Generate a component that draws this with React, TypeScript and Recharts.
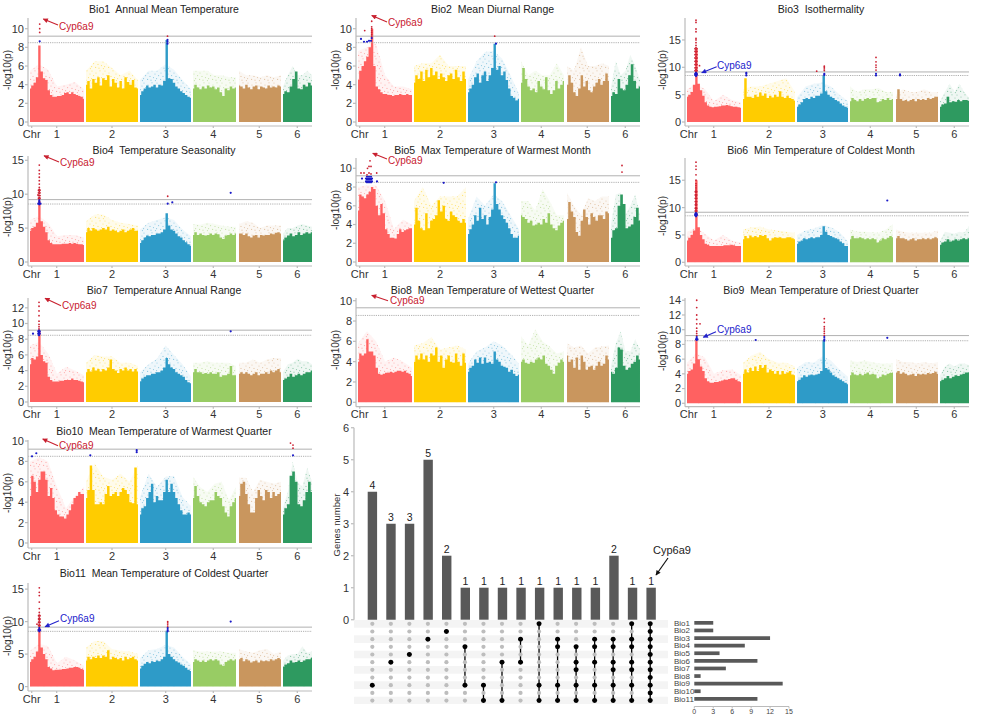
import React from 'react';
import {
  ComposedChart, BarChart, Bar, Area, Scatter, Line, XAxis, YAxis,
  ReferenceLine, ReferenceArea, LabelList
} from 'recharts';

const FONT = '"Liberation Sans", Arial, sans-serif';

// genome axis, shared by all Manhattan panels
const chrStart = [2, 58, 112, 165, 211, 255];
const chrEnd = [56, 110, 163, 208, 253, 284];
const chrTicks = [3.7, 28.7, 84, 137.7, 185.3, 231.3, 269.3];
const chrLabels = ['Chr', '1', '2', '3', '4', '5', '6'];
const chrColors = ['#FF6161', '#FFCC00', '#2E9BC8', '#98CC64', '#C9965E', '#2E9A60'];

// solid part of each chromosome, -log10(p) read along the chromosome
const bio1Solid = [
  [3.6,3.9,4.2,4.8,8.2,5.4,4.7,4.5,3.4,2.9,2.7,2.7,2.8,2.8,2.9,3.1,3.2,3.0,3.2,3.0,2.9,2.8,2.7,2.5],
  [4.0,4.4,3.6,4.6,4.2,4.8,3.9,4.7,4.5,5.0,3.8,4.6,4.2,3.7,4.4,3.6,4.8,4.3,4.0,4.5,3.7,3.6],
  [2.9,3.3,3.6,3.9,3.7,3.8,4.0,3.7,4.0,3.9,4.4,8.8,4.7,4.6,4.2,3.8,3.6,3.3,3.1,2.9,2.7,2.6],
  [3.6,4.0,3.7,3.5,3.8,3.6,3.9,3.7,3.8,3.5,3.7,3.2,2.8,3.6,3.4,3.8,3.6,3.7],
  [3.9,3.8,3.6,4.0,3.7,3.5,3.8,3.9,3.5,3.8,3.7,3.6,3.9,3.7,3.8,3.7,3.9,3.8],
  [3.0,3.3,3.2,3.8,4.6,5.4,3.6,3.5,4.0,3.8,4.2,3.9],
];
const bio2Solid = [
  [4.5,5.5,6,6.5,7,8,10,6,3.8,3.5,3.2,3.0,3.0,2.9,2.9,2.8,2.9,2.9,3.0,2.9,2.9,3.0,2.9,2.9],
  [4.2,5.0,4.6,5.4,4.4,5.6,4.8,5.8,5.0,5.4,4.6,5.2,4.8,4.4,5.0,5.2,4.6,5.6,4.8,4.4,5.4,4.6],
  [3.2,3.6,4.0,4.8,5.2,4.2,5.0,5.4,4.4,5.0,5.8,8.4,5.6,6.0,5.0,5.4,4.5,3.6,2.8,2.6,2.3,2.5],
  [4.2,5.8,4.6,3.8,3.4,3.6,3.2,4.4,3.8,3.5,4.8,3.4,3.0,3.4,4.4,3.6,4.0,4.4],
  [4.0,5.0,4.2,3.2,2.8,3.6,5.0,3.8,4.4,3.4,3.2,3.8,4.2,4.6,4.0,4.4,5.2,4.4],
  [2.8,3.2,3.0,4.6,3.6,3.4,4.0,5.0,6.2,4.4,3.6,3.8],
];
const bio3Solid = [
  [4.6,5,5.5,6.8,13.5,7.0,5.8,4.8,3.6,3,2.8,2.7,2.8,2.8,2.9,3,3.0,3.1,3.0,2.9,2.8,2.8,2.7,2.6],
  [4.2,8,4.6,4.6,4.4,5,4.6,5.4,4.8,5.2,4.4,4.8,4.5,5,4.6,5.6,4.6,4.4,4.8,4.4,4.2,3.9],
  [2.8,3.2,3.6,4.2,4.4,4.2,4.6,4.4,4.8,4.8,5.2,8.6,5.6,5,4.6,4.4,4,3.8,3.4,3.0,2.8,2.6],
  [3.8,4.4,4.0,3.8,4.2,3.9,4.2,4.4,4.2,4.4,4.4,3.6,3.8,4.2,4,4.4,4,4.2],
  [4.2,6,4.2,3.9,4,3.8,4,4.2,3.8,4.2,4,4.2,4,4.4,4.2,4.4,4.6,4.6],
  [2.8,3.2,3.4,4.6,3.6,3.8,3.7,4.0,3.8,4,4,3.9],
];
const bio4Solid = [
  [4.6,5,5.2,5.8,9,6,5.2,4.4,3.2,2.8,2.6,2.6,2.6,2.6,2.7,2.7,2.7,2.8,2.7,2.8,2.7,2.6,2.6,2.5],
  [4.4,5,4.6,5,4.8,4.6,4.8,5,4.8,5.2,4.6,4.8,4.6,4.4,4.6,4.8,4.4,4.6,4.8,5,4.6,4.6],
  [2.8,3.2,3.6,3.9,3.8,4,4,4.2,4.2,4.4,4.8,7.2,5.4,4.8,4.6,4.2,3.8,3.6,3.2,2.9,2.6,2.4],
  [4,4.4,4,4.2,4,3.9,4,4.2,4,4.2,4.1,3.6,3.4,3.9,4,4.2,4,4.2],
  [4.2,4.2,4,4.2,3.8,3.6,3.9,4,3.6,4,3.9,4,4,4.2,4.1,4.3,4.4,4.2],
  [3.2,3.6,3.9,4.2,3.8,4,4.4,4,4.2,4.4,4.2,4.4],
];
const bio5Solid = [
  [5.5,7.2,7,6.8,7.2,7.5,8,7.8,6,5,6.2,5.2,3.5,3,2.6,2.6,2.5,3.0,3.5,3.2,3.4,3.5,3.6,3.6],
  [4,5.8,4.4,3.6,3.4,5.2,3.6,4.4,4.6,5,6.6,5.4,6,4.6,4.4,5.4,5,4.8,4.4,4.2,4.6,4.2],
  [3,3.5,4,5,4.4,5.8,4.6,5,4,4.8,5.6,8.4,6.2,5.6,5,4.6,4.2,3.6,3,2.6,2.6,2.8],
  [5,4.8,4.6,4.2,4.4,3.9,4,4.2,4,4.6,4.2,5.2,4,3.6,3.4,3.9,4.2,4.4],
  [4.6,6.4,5.4,4.8,3.2,2.8,4.4,5.6,4.8,4,5.2,4.8,4.4,5,5,4.6,5.4,5.2],
  [2.6,3.4,3.6,6,7.2,6.2,3.6,3.8,4,4.8,5.8,4.4],
];
const bio6Solid = [
  [4,4.5,5,5.8,15,6.4,5,4.2,3.4,3.2,3,3,3,3,3,3,3.1,3.1,3.1,3.2,3.1,3,3,3],
  [4.2,4.8,4.4,4.9,4.6,4.8,4.6,5,4.8,5,4.4,4,4.4,4.6,4.5,4.6,4.4,4.4,4.6,4.6,4.4,4.2],
  [3.4,3.8,4,4.4,4.2,4.4,4.6,4.4,4.6,4.6,5,6.6,5.6,5,4.8,4.6,4.4,4.2,3.8,3.5,3,3],
  [4.2,4.8,4.4,4.4,4.6,4.4,4.2,4.4,4.2,4.4,4.2,3.6,4,4.4,4.2,4.5,4.8,4.6],
  [4.4,4.8,4.4,4.4,4.2,4,4.2,4.4,4,4.2,4.2,4.4,4.2,4.4,4.2,4.4,4.6,4.4],
  [3.2,3.6,3.8,4.2,3.8,4,4.2,4,4.2,4.4,4.2,4.4],
];
const bio7Solid = [
  [4.8,5.6,5.4,5.8,9,6,5.2,5,3.2,2.8,2.6,2.6,2.6,2.7,2.7,2.8,2.8,2.8,3,2.8,2.8,2.7,2.6,2.5],
  [3.8,4.2,3.9,4.4,4,4.2,3.9,4.2,4,4.4,5.4,4.2,4,3.7,4.2,4,4.4,4,4.2,3.9,4.2,3.9],
  [2.6,3,3.2,3.4,3.4,3.6,3.6,3.8,3.8,4,4.4,5.6,4.8,4.4,4.2,3.8,3.6,3.4,3.2,2.8,2.5,2.4],
  [3.8,4.2,3.8,3.8,3.6,3.7,3.6,3.8,3.6,3.6,3.8,3.2,3.4,3.4,3.6,4.6,3.4,3.4],
  [3.6,3.8,3.6,3.8,3.6,3.4,3.6,3.8,3.4,3.6,3.6,3.8,3.6,4,3.8,4,4.2,3.8],
  [2.8,3,3.2,3.6,3.2,3.4,3.6,3.4,3.6,3.8,3.8,4],
];
const bio8Solid = [
  [4,4.8,4.6,4.8,6.2,5,5,4.6,3.4,2.8,2.7,2.8,2.9,2.9,3,2.9,3,3.1,3.1,3,3.1,2.9,2.8,2.6],
  [4,4.6,4.2,4.8,4.2,4.6,4,4.8,4.6,5.4,4,4.6,3.4,4.2,4.6,4,3.9,4.8,4,3.6,4.8,3.9],
  [3,3.4,3.6,4.2,3.9,4.4,3.8,4.4,3.9,4,3.8,5,4.2,4,3.6,3.5,3.4,3,3.2,2.8,2.6,2.7],
  [4,4.2,3.9,3.8,4,3.9,4.2,4.4,4.2,4.6,3.8,3.6,3.2,2.8,3.6,3.9,4.2,4],
  [4.6,4,4.2,3.4,4.4,3.2,4.6,4,3.2,3.5,3.6,3.2,3.6,4,3.6,3.8,4.6,4.2],
  [3,2.8,3.4,5.4,5.2,3.6,3.2,3.4,3.8,4,4.6,4.2],
];
const bio9Solid = [
  [4,4.4,4.6,5.4,8.6,6,5,4.4,3.4,3,2.8,2.8,2.9,2.9,3,3.1,3.2,3.2,3.3,3.4,3.4,3.2,3,2.9],
  [4,4.6,4.2,4.8,4.4,5,4.4,5.2,4.8,5.2,4.2,4.6,4.4,4,4.4,3.9,4.4,4,4.2,4.4,3.9,3.8],
  [3,3.2,3.5,3.8,3.6,3.8,3.9,3.8,3.9,4,4.4,8.6,4.8,4.6,4.2,3.8,3.6,3.4,3.2,3,2.8,2.6],
  [3.8,4.2,3.9,3.8,4,3.8,4,4.2,3.9,4,3.9,3.4,3.6,3.9,3.8,4,4.1,4.2],
  [4.2,4.4,4,4.2,4,3.8,3.9,4,3.7,4,3.9,4,3.9,4.1,4,4.1,4.3,4],
  [3,3.2,3.4,3.7,3.4,3.6,3.8,3.7,3.9,4,4.2,4.2],
];
const bio10Solid = [
  [4.6,6.6,6,5,6.2,7,7,6.2,4.6,5.4,4.4,3.2,2.8,2.6,2.6,2.4,2.8,3.2,3.8,4.4,4.6,5,4.8,4.8],
  [4.4,5.2,7.6,5.2,3.8,3.8,4,3.8,4.8,5.6,4.6,4.8,5,4.6,5,5.4,5.2,4.8,4,3.9,7.4,3.8],
  [2.8,3.4,3.6,4.4,5,5.8,4,4.6,4.2,4.2,5,6.2,5,5.8,5,4.4,3.8,3.2,2.8,2.8,3,2.8],
  [4.4,5.6,4.6,4,3.8,3.6,4,4.2,4.2,5,4.6,4.4,3.6,3,2.6,3.6,4,4.4],
  [4.6,5.8,6,4.8,3.8,3,3,4.4,5.2,4.6,4.2,5.2,5,4.4,5,4.6,4.8,5],
  [2.8,3.4,3.8,6.6,7,6,3.8,3.6,4.2,5,6,5],
];
const bio11Solid = [
  [3.8,4.2,4.6,5.4,9,6,5,4.2,3,2.8,2.5,2.6,2.6,2.6,2.7,2.7,2.8,2.9,2.9,3,3,2.9,2.7,2.6],
  [4,4.6,4.2,4.6,4.4,4.8,4.4,4.8,4.6,5.6,4.2,4.6,4.4,4.2,4.4,4,4.6,4.2,4.4,4.6,4.2,4],
  [2.8,3.2,3.5,3.8,3.6,3.9,3.8,4,3.9,4.2,4.6,8.6,5,4.6,4.2,3.9,3.7,3.4,3.2,2.9,2.6,2.4],
  [3.8,4.2,4,3.8,4,3.8,4,4.2,4,4.2,4,3.4,3.2,3.8,4,4.2,4,4.2],
  [4.2,4.4,3.9,4.2,4,3.7,3.9,4,3.7,4,3.9,4,3.9,4.2,4,4.2,4.4,4.2],
  [3,3.4,3.6,4,3.7,3.8,4,3.8,4,4.2,4.2,4.4],
];

// thin stippled cloud above the solid part
const bio1Cloud = [[5.5,6.2,5.6,3.8,4,4.3,3.5],[5.5,6.5,6.5,5.8,5,5.5,4.5],[4.5,5.5,5.5,6.2,5.6,4.5,3.5],[5.5,5.5,5.5,5,5,4.8,4.8],[5.5,5,5,4.8,5,4.8,5],[3.8,5,6,5,5,5.5,5]];
const bio2Cloud = [[7.6,8,8.4,5,3.8,3.8,3.5],[6,6.3,6.3,7.2,6,6,6],[4.5,6.5,7.5,7.6,6.8,5,3],[6.5,5,5.5,5,5,6.3,5],[6,5.5,8,6,6,6.3,6],[3.8,6.5,5,5.5,7.2,6,4.5]];
const bio3Cloud = [[6,7,6,3.8,5,4,3.6],[6,6.5,6.5,7,7.5,8,5.5],[4.5,6.5,7,7.2,6.5,5,3.8],[6.5,5.5,6,6,6.2,5.5,5.5],[5,6,5.5,5.5,6,5.5,5.5],[3.8,5.5,7,5.5,7,5.5,4.5]];
const bio4Cloud = [[6.2,6.8,5.8,3.8,4,4,3.6],[6,7,7,6.2,5.8,5.6,5.4],[4.8,5.8,6.2,6.6,6.2,4.8,3.8],[5.6,5.5,5.8,5.6,5.4,5.2,5.2],[5.6,6,5.8,5,5.4,5.4,5.4],[4.2,5,5,5.4,5.6,5.4,5.2]];
const bio5Cloud = [[8,8.2,8.2,6.5,3.5,4.5,4],[6.5,8,6,7,7,7,8],[4.5,7,6,7.2,6.5,5,3.5],[6.5,6.5,5.5,7.8,6.5,5,5],[7.4,6,5,6.8,6.5,7,7],[4,7.2,7.4,5,6,7.2,5]];
const bio6Cloud = [[5.5,6.4,5.2,4,5,4,3.6],[6,6.4,6.5,6,5.8,5.6,5.4],[5,5.8,6.2,6.8,6.4,5.5,3.8],[6,5.6,5.6,5.5,5.4,6,7],[6,5.6,5.4,5.4,5.4,5.4,5.8],[3.9,5.6,5.4,5.2,5.6,5.4,6.6]];
const bio7Cloud = [[7.2,7.6,6.2,3.6,4.5,4,3.4],[5,6,5.8,5.8,5,5,4.6],[3.8,4.8,5.5,7.2,6,4.8,3.2],[5,5,5.2,5,5,5,4.6],[5,5,5.4,5,5.4,5.6,5.6],[3.8,4.8,5,5.5,5.2,5.2,4.8]];
const bio8Cloud = [[5.8,7,6,4,4.4,4,3.4],[5.6,5.8,6.4,5.2,5.4,5.6,5.2],[3.8,5,5.4,6,5.6,4.8,3.8],[6.5,5.6,7.2,6,5.5,4.8,5],[5.8,5.4,5.6,4.8,5.4,5.5,5.6],[3.6,5.8,7,5,5,6.2,5.2]];
const bio9Cloud = [[5.5,6.8,6.2,4,4.5,4.6,3.8],[5.5,6.5,7,6,5.5,5.5,5],[4.8,5.6,5.5,6.4,5.8,4.6,3.6],[5.8,5.6,5.8,5.6,5.4,5.4,5.4],[6,5.6,5.6,5.4,5.6,5.4,5.6],[3.8,5,5.4,5,5.4,5.4,5.2]];
const bio10Cloud = [[8,8.4,8,5.5,3.4,4.6,5.5],[6,7.8,6.5,6.2,6.8,6,7.6],[4.5,6.8,5.5,6.5,6.6,4.5,3.6],[6.5,5.5,5,5.8,6,4.2,5.5],[6.4,6.4,5,6.2,6,5.8,6],[3.5,5,8,6,5.5,7.4,6]];
const bio11Cloud = [[5.5,6.6,6.2,3.6,4.6,4,3.2],[6,7,7,5.8,5.5,5.4,5],[4.4,5.6,5.8,6.4,6,4.6,3.4],[5.6,5.4,5.4,5.4,5.4,5.2,5.2],[5.8,5.4,5.2,5.6,5.8,5,5.4],[4,4.8,5,5,6.2,5.2,5.4]];

// significant SNPs: [genome position, [-log10(p) values]]
const bio1Red = [[11.7,[9.6,10,10.5]],[139.5,[9.2]]];
const bio1Blue = [[11.7,[8.65]],[139.5,[8.4,8.6,8.8]]];
const bio2Red = [[15.7,[9.2,9.4,9.6,9.8,10,10.2,10.8]],[8.7,[9.8]],[138.7,[9.2]]];
const bio2Blue = [[5,[8.9]],[8,[8.6]],[11,[8.6]],[13,[8.7]],[15,[8.7]],[15.7,[9]],[140,[8.4]]];
const bio3Red = [[11,[9.2,9.6,10,10.4,10.8,11.2,11.6,12,12.4,12.8,13.2,13.6,14,14.5,15,15.3,16.5,17,18.2,18.6]],[10,[9.4,9.9,10.5,11.1,11.7,12.3,12.9,13.4]],[12,[9.4,9.9,10.5,11.1,11.7,12.3,12.9,13.4]],[14.5,[10.3]],[131.7,[9.3]],[139.3,[9.4,9.7,10,10.2]],[191,[9.5,10,10.4,11,11.8]]];
const bio3Blue = [[11,[8.4,8.6,8.8,9]],[11.8,[8.6,8.8]],[10.2,[8.6,8.8]],[139.3,[8.6,8.8]],[191,[8.5,8.8]],[215,[8.5,8.7]],[61.3,[8.5,8.8,9]]];
const bio4Red = [[11.3,[9.2,9.5,9.8,10.1,10.4,10.7,11,11.5,12,12.5,13,13.5,14.3]],[10.5,[9.4,9.8,10.2,10.6]],[12,[9.4,9.8,10.2,10.6]],[10,[9.9]],[139.7,[9.7]]];
const bio4Blue = [[11.3,[8.5,8.7,8.9,9.1]],[10.3,[8.6]],[12.5,[8.6]],[139.7,[8.6]],[144.3,[8.8]],[202.7,[10.2]]];
const bio5Red = [[5,[9.5]],[8,[9.5]],[11,[9.3]],[11.5,[10]],[13,[10.2,9.5]],[14,[10.8]],[15,[10.2,9.4]],[20.7,[9.5]],[266,[9.6,10.3]]];
const bio5Blue = [[6,[8.9]],[10,[8.6,8.9]],[11,[8.5,8.8,9.1]],[12,[8.6,8.9]],[13,[8.5,8.8,9.1]],[14,[8.6,8.9]],[15,[8.5,8.8,9.1]],[16,[8.6,8.9]],[21,[8.6]],[87.7,[8.45]],[140,[8.5]]];
const bio6Red = [[11,[9.2,9.6,10,10.4,10.8,11.2,11.6,12,12.4,12.8,13.2,13.6,14,14.4,15,16,17,17.6,18.3]],[10.3,[9.4,9.9,10.5,11.1,11.7,12.3,12.9]],[11.7,[9.4,9.9,10.5,11.1,11.7,12.3,12.9]]];
const bio6Blue = [[11,[8.4,8.6,8.8,9]],[10.2,[8.6,8.8]],[11.8,[8.6,8.8]],[202.3,[11.3]]];
const bio7Red = [[11,[9.3,9.6,9.9,10.3,11,11.6,12.2,12.7]]];
const bio7Blue = [[11,[8.5,8.7,8.9,9.1]],[10.2,[8.7,9]],[11.8,[8.7,9]],[5,[8.7]],[202.7,[9]]];
const bio8Red: any[] = [];
const bio8Blue: any[] = [];
const bio9Red = [[11.7,[9.2,9.5,9.8,10.2,10.8,11.4,12,13,14]],[15,[10.8]],[139.3,[9.2,9.5,9.8,10.1,10.4,11,11.5]]];
const bio9Blue = [[11.7,[8.6,8.8,9]],[11,[8.7]],[12.5,[8.7]],[70.7,[8.6]],[139.3,[8.5,8.7,9]],[202.3,[8.9]]];
const bio10Red = [[265,[9.3,9.6]],[262.5,[9.8]]];
const bio10Blue = [[4,[8.5]],[8.3,[8.8]],[62.3,[8.6]],[108.7,[8.9,9.1]],[265,[8.6]]];
const bio11Red = [[11.3,[9.2,9.5,9.8,10.1,10.4,10.7,11,11.4,12,13,14,14.5,15.2]],[10.6,[9.4,9.9,10.4,10.9]],[12,[9.4,9.9,10.4,10.9]],[9,[9.6]],[139.7,[9.2,9.5,9.8,10]]];
const bio11Blue = [[11.3,[8.5,8.7,9]],[10.4,[8.7]],[12.2,[8.7]],[139.7,[8.5,8.7,9]],[202.7,[10]]];

// upset plot
const setIds = ['Bio1','Bio2','Bio3','Bio4','Bio5','Bio6','Bio7','Bio8','Bio9','Bio10','Bio11'];
const setSizes = [3,3,12,8,4,10,5,1,14,1,10];
const intersectionCounts = [4,3,3,5,2,1,1,1,1,1,1,1,1,2,1,1];
const intersectionMembers = [
  [9],[6],[5],[3],[2],[4,9],[9,11],[6,11],[3,6],[1,9,11],[3,4,9,11],[4,6,7,9,11],
  [3,4,6,9,11],[3,4,6,7,9,11],[1,3,4,6,7,9,11],[1,2,3,4,5,6,7,8,9,10,11],
];

const panels = [
  { title: 'Bio1  Annual Mean Temperature', solid: bio1Solid, cloud: bio1Cloud, red: bio1Red, blue: bio1Blue, ax: 28, top: 18, axisY: 126, y0: 122, ppu: 9.33, ticks: [0,2,4,6,8,10], tx: 164, ty: 9.5, lx: 8, ly: 70, hi: 9.2, lo: 8.5 },
  { title: 'Bio2  Mean Diurnal Range', solid: bio2Solid, cloud: bio2Cloud, red: bio2Red, blue: bio2Blue, ax: 356, top: 18, axisY: 126, y0: 122, ppu: 9.33, ticks: [0,2,4,6,8,10], tx: 492.5, ty: 9.5, lx: 336, ly: 70, hi: 9.2, lo: 8.5 },
  { title: 'Bio3  Isothermality', solid: bio3Solid, cloud: bio3Cloud, red: bio3Red, blue: bio3Blue, ax: 685, top: 18, axisY: 126, y0: 122, ppu: 5.47, ticks: [0,5,10,15], tx: 821, ty: 9.5, lx: 663, ly: 70, hi: 9.15, lo: 8.5 },
  { title: 'Bio4  Temperature Seasonality', solid: bio4Solid, cloud: bio4Cloud, red: bio4Red, blue: bio4Blue, ax: 28, top: 156, axisY: 266, y0: 262, ppu: 6.78, ticks: [0,5,10,15], tx: 164, ty: 150, lx: 8, ly: 217, hi: 9.2, lo: 8.55 },
  { title: 'Bio5  Max Temperature of Warmest Month', solid: bio5Solid, cloud: bio5Cloud, red: bio5Red, blue: bio5Blue, ax: 356, top: 158, axisY: 266, y0: 262, ppu: 9.37, ticks: [0,2,4,6,8,10], tx: 492.5, ty: 150, lx: 336, ly: 210, hi: 9.2, lo: 8.5 },
  { title: 'Bio6  Min Temperature of Coldest Month', solid: bio6Solid, cloud: bio6Cloud, red: bio6Red, blue: bio6Blue, ax: 685, top: 158, axisY: 266, y0: 262.3, ppu: 5.47, ticks: [0,5,10,15], tx: 821, ty: 150, lx: 663, ly: 216, hi: 9.15, lo: 8.5 },
  { title: 'Bio7  Temperature Annual Range', solid: bio7Solid, cloud: bio7Cloud, red: bio7Red, blue: bio7Blue, ax: 28, top: 298, axisY: 406.7, y0: 402, ppu: 7.85, ticks: [0,2,4,6,8,10,12], tx: 164, ty: 290.5, lx: 8, ly: 350, hi: 9.15, lo: 8.5 },
  { title: 'Bio8  Mean Temperature of Wettest Quarter', solid: bio8Solid, cloud: bio8Cloud, red: bio8Red, blue: bio8Blue, ax: 356, top: 298, axisY: 406.7, y0: 402.3, ppu: 10.16, ticks: [0,2,4,6,8,10], tx: 492.5, ty: 290.5, lx: 336, ly: 350, hi: 9.3, lo: 8.55 },
  { title: 'Bio9  Mean Temperature of Driest Quarter', solid: bio9Solid, cloud: bio9Cloud, red: bio9Red, blue: bio9Blue, ax: 685, top: 298, axisY: 406.7, y0: 403.3, ppu: 7.36, ticks: [0,2,4,6,8,10,12,14], tx: 821, ty: 290.5, lx: 663, ly: 351, hi: 9.2, lo: 8.5 },
  { title: 'Bio10  Mean Temperature of Warmest Quarter', solid: bio10Solid, cloud: bio10Cloud, red: bio10Red, blue: bio10Blue, ax: 28, top: 440, axisY: 548, y0: 543, ppu: 10.2, ticks: [0,2,4,6,8,10], tx: 164, ty: 431, lx: 8, ly: 493, hi: 9.2, lo: 8.5 },
  { title: 'Bio11  Mean Temperature of Coldest Quarter', solid: bio11Solid, cloud: bio11Cloud, red: bio11Red, blue: bio11Blue, ax: 28, top: 582.7, axisY: 690.7, y0: 686.3, ppu: 6.5, ticks: [0,5,10,15], tx: 164, ty: 572.7, lx: 8, ly: 636, hi: 9.15, lo: 8.5 },
];

// Cyp6a9 callouts: arrow tip, arrow tail, label start
const callouts = [
  { tip: [43.3,19], tail: [58,25], at: [59,26], color: '#C8202F' },
  { tip: [371.7,15.5], tail: [387,22], at: [388,22.5], color: '#C8202F' },
  { tip: [701.7,72.7], tail: [716.7,66.7], at: [717,65], color: '#2222CC' },
  { tip: [44,155.7], tail: [59,162], at: [60,162.7], color: '#C8202F' },
  { tip: [372.7,153.3], tail: [387,159], at: [388,160], color: '#C8202F' },
  { tip: [45,298.3], tail: [61,305.7], at: [62,305], color: '#C8202F' },
  { tip: [371.7,295.3], tail: [388,300.7], at: [390,300.7], color: '#C8202F' },
  { tip: [703.3,337.3], tail: [716,331.7], at: [717,329.3], color: '#2222CC' },
  { tip: [42.7,439], tail: [58,445.7], at: [59,445.7], color: '#C8202F' },
  { tip: [45,626.7], tail: [59,620.7], at: [60,618.7], color: '#2222CC' },
];

// irregular tile so the cloud reads as scattered SNPs
const stipple = [[1,1],[5,3],[9,0.8],[12,4],[2.6,5.6],[7,6.4],[10.5,7.6],[0.6,8.6],[4.6,9.4],[8,10.2],[12.4,10.6]];

const alongChr = (values: number[], i: number) =>
  values.map((y, k) => ({
    x: chrStart[i] + (k / (values.length - 1)) * (chrEnd[i] - chrStart[i]),
    y,
  }));

const flattenHits = (hits: any[]) =>
  hits.flatMap(([x, ys]: any) => ys.map((y: number) => ({ x, y })));

const dot = (fill: string, r: number) => (p: any) =>
  <circle cx={p.cx} cy={p.cy} r={r} fill={fill} />;

const PAD = 8;

const ManhattanPanel = ({ p }: { p: any }) => {
  const id = p.title.split(' ')[0];
  const height = p.axisY - p.top + 22 + PAD;
  return (
    <div style={{ position: 'absolute', left: p.ax - 28, top: p.top - PAD }}>
      <ComposedChart width={312} height={height} margin={{ top: PAD, right: 0, bottom: 0, left: 0 }}>
        <defs>
          {chrColors.map((c, i) => (
            <pattern key={c} id={`${id}-st${i}`} width="13" height="12" patternUnits="userSpaceOnUse">
              <rect width="13" height="12" fill={c} fillOpacity={0.08} />
              {stipple.map(([cx, cy]) => (
                <circle key={`${cx}-${cy}`} cx={cx} cy={cy} r="0.6" fill={c} fillOpacity={0.5} />
              ))}
            </pattern>
          ))}
        </defs>
        <XAxis
          type="number"
          dataKey="x"
          domain={[0, 284]}
          ticks={chrTicks}
          tickFormatter={(_v: any, i: number) => chrLabels[i]}
          interval={0}
          height={22}
          tickSize={2}
          tickMargin={2}
          stroke="#bbbbbb"
          strokeWidth={1.2}
          tick={{ fontSize: 11, fill: '#333', fontFamily: FONT }}
        />
        <YAxis
          type="number"
          domain={[-(p.axisY - p.y0) / p.ppu, (p.y0 - p.top) / p.ppu]}
          ticks={p.ticks}
          interval={0}
          width={28}
          tickSize={3}
          tickMargin={1}
          stroke="#bbbbbb"
          strokeWidth={1.2}
          tick={{ fontSize: 11, fill: '#333', fontFamily: FONT }}
        />
        {p.cloud.map((values: number[], i: number) => (
          <Area
            key={`cloud${i}`}
            data={alongChr(values, i)}
            dataKey="y"
            baseValue={0}
            type="linear"
            stroke="none"
            fill={`url(#${id}-st${i})`}
            fillOpacity={1}
            dot={false}
            activeDot={false}
            isAnimationActive={false}
          />
        ))}
        {p.solid.map((values: number[], i: number) => (
          <Area
            key={`solid${i}`}
            data={alongChr(values, i)}
            dataKey="y"
            baseValue={0}
            type="step"
            stroke="none"
            fill={chrColors[i]}
            fillOpacity={1}
            dot={false}
            activeDot={false}
            isAnimationActive={false}
          />
        ))}
        <ReferenceLine y={p.hi} stroke="#a8a8a8" strokeWidth={0.9} />
        <ReferenceLine y={p.lo} stroke="#a8a8a8" strokeWidth={0.9} strokeDasharray="1.2 1" />
        <Scatter data={flattenHits(p.red)} dataKey="y" shape={dot('#CC2233', 0.9)} isAnimationActive={false} />
        <Scatter data={flattenHits(p.blue)} dataKey="y" shape={dot('#1A1AC8', 1.1)} isAnimationActive={false} />
      </ComposedChart>
    </div>
  );
};

const IntersectionBars = () => (
  <div style={{ position: 'absolute', left: 334.3, top: 420 }}>
    <BarChart
      width={326}
      height={210}
      data={intersectionCounts.map((n, i) => ({ name: i + 1, n }))}
      margin={{ top: 7.7, right: 0, bottom: 10.3, left: 0 }}
    >
      <XAxis dataKey="name" hide padding={{ left: 8.7, right: 0 }} height={0} />
      <YAxis
        domain={[0, 6]}
        ticks={[0, 1, 2, 3, 4, 5, 6]}
        interval={0}
        width={20}
        tickSize={3}
        tickMargin={2}
        stroke="#c4c4c4"
        strokeWidth={1.4}
        tick={{ fontSize: 11, fill: '#333', fontFamily: FONT }}
      />
      <Bar dataKey="n" fill="#595959" barSize={9.4} isAnimationActive={false}>
        <LabelList dataKey="n" position="top" offset={3} style={{ fontSize: 10.5, fill: '#222', fontFamily: FONT }} />
      </Bar>
    </BarChart>
  </div>
);

const MembershipMatrix = () => {
  const cells = intersectionMembers.flatMap((_m, c) => setIds.map((_s, r) => ({ x: c + 1, y: r + 1 })));
  const filled = intersectionMembers.flatMap((m, c) => m.map((r) => ({ x: c + 1, y: r })));
  return (
    <div style={{ position: 'absolute', left: 354, top: 619.5 }}>
      <ComposedChart width={314} height={84.4} margin={{ top: 0, right: 0, bottom: 0, left: 0 }}>
        <XAxis type="number" dataKey="x" domain={[0.012, 16.96]} hide height={0} />
        <YAxis type="number" domain={[0.5, 11.5]} reversed hide width={0} />
        {setIds.map((s, r) => r % 2 === 0 ? (
          <ReferenceArea key={s} x1={0.012} x2={16.96} y1={r + 0.5} y2={r + 1.5} fill="#f4f4f4" fillOpacity={1} stroke="none" />
        ) : null)}
        <Scatter data={cells} dataKey="y" shape={dot('#bdbdbd', 2.1)} isAnimationActive={false} />
        {intersectionMembers.map((m, c) => m.length > 1 ? (
          <Line
            key={c}
            data={m.map((r) => ({ x: c + 1, y: r }))}
            dataKey="y"
            stroke="#000"
            strokeWidth={1.3}
            dot={false}
            activeDot={false}
            connectNulls
            isAnimationActive={false}
          />
        ) : null)}
        <Scatter data={filled} dataKey="y" shape={dot('#000', 2.5)} isAnimationActive={false} />
      </ComposedChart>
    </div>
  );
};

const SetSizeBars = () => (
  <div style={{ position: 'absolute', left: 672, top: 618.5 }}>
    <BarChart
      layout="vertical"
      width={126}
      height={100}
      data={setIds.map((name, i) => ({ name, size: setSizes[i] }))}
      margin={{ top: 0, right: 9, bottom: 0, left: 0 }}
    >
      <XAxis
        type="number"
        domain={[0, 15]}
        ticks={[0, 3, 6, 9, 12, 15]}
        interval={0}
        height={12.5}
        tickSize={2}
        tickMargin={1}
        stroke="#bbbbbb"
        tick={{ fontSize: 7, fill: '#444', fontFamily: FONT }}
      />
      <YAxis
        type="category"
        dataKey="name"
        width={22.3}
        axisLine={false}
        tickLine={false}
        interval={0}
        padding={{ top: 0, bottom: 3.9 }}
        tick={(t: any) => (
          <text x={2} y={t.y} dy={2.8} fontSize={8} fill="#444" fontFamily={FONT}>{t.payload.value}</text>
        )}
      />
      <Bar dataKey="size" fill="#595959" barSize={3.7} isAnimationActive={false} />
    </BarChart>
  </div>
);

const Overlay = () => (
  <svg width={985} height={719} style={{ position: 'absolute', left: 0, top: 0, pointerEvents: 'none' }}>
    <defs>
      {['#C8202F', '#2222CC', '#111111'].map((c) => (
        <marker key={c} id={`head${c.slice(1)}`} viewBox="0 0 10 10" refX="9" refY="5" markerWidth="7" markerHeight="5" orient="auto-start-reverse" markerUnits="userSpaceOnUse">
          <path d="M0 0 L10 5 L0 10 Z" fill={c} />
        </marker>
      ))}
    </defs>
    {panels.map((p) => (
      <g key={p.title} fontFamily={FONT}>
        <text x={p.tx} y={p.ty} dy={3.8} textAnchor="middle" fontSize={10.5} fill="#222" style={{ whiteSpace: 'pre' }}>{p.title}</text>
        <text transform={`translate(${p.lx},${p.ly}) rotate(-90)`} dy={3.4} textAnchor="middle" fontSize={10} fill="#333">-log10(p)</text>
      </g>
    ))}
    {callouts.map((c, i) => (
      <g key={i}>
        <line x1={c.tail[0]} y1={c.tail[1]} x2={c.tip[0]} y2={c.tip[1]} stroke={c.color} strokeWidth={1.1} markerEnd={`url(#head${c.color.slice(1)})`} />
        <text x={c.at[0]} y={c.at[1]} dy={3.5} fontSize={10} fill={c.color} fontFamily={FONT}>Cyp6a9</text>
      </g>
    ))}
    <text transform="translate(337,525) rotate(-90)" dy={3} textAnchor="middle" fontSize={9.5} fill="#333" fontFamily={FONT}>Genes number</text>
    <text x={672} y={550} dy={3.8} textAnchor="middle" fontSize={11} fill="#222" fontFamily={FONT}>Cyp6a9</text>
    <line x1={668} y1={558} x2={656} y2={575} stroke="#111111" strokeWidth={1.2} markerEnd="url(#head111111)" />
  </svg>
);

export default function App() {
  return (
    <div style={{ position: 'absolute', left: 0, top: 0, width: 985, height: 719, background: '#fff', overflow: 'hidden', fontFamily: FONT }}>
      {panels.map((p) => <ManhattanPanel key={p.title} p={p} />)}
      <IntersectionBars />
      <MembershipMatrix />
      <SetSizeBars />
      <Overlay />
    </div>
  );
}
